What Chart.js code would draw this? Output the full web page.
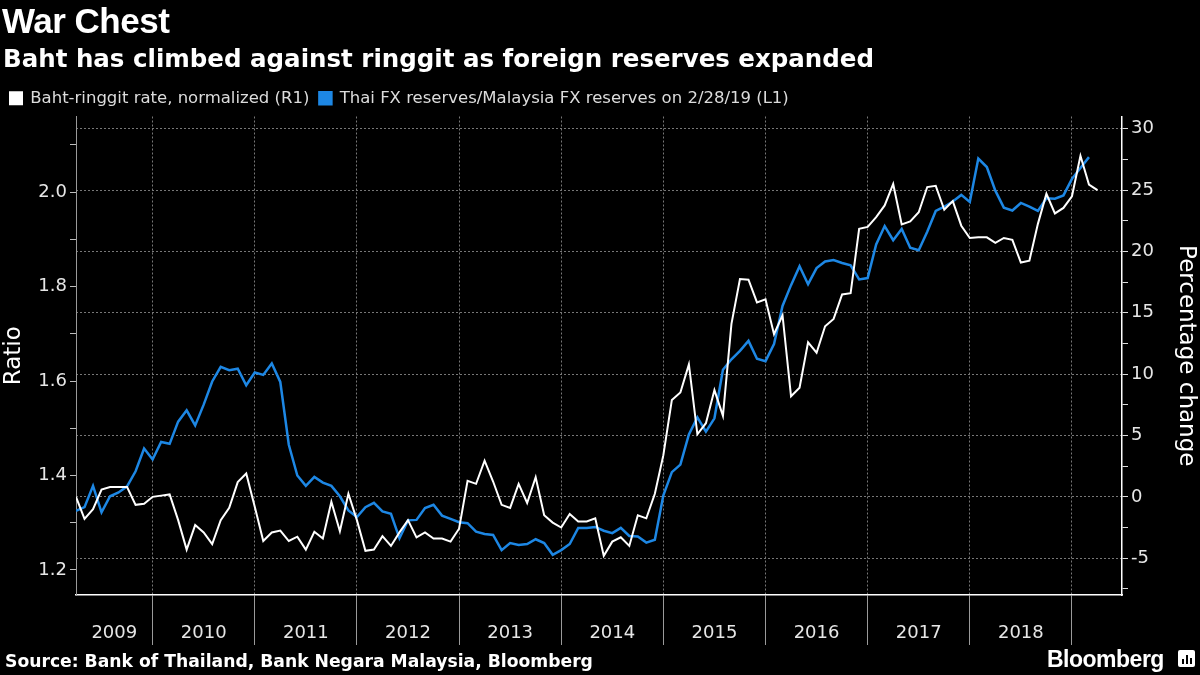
<!DOCTYPE html>
<html lang="en">
<head>
	<meta charset="UTF-8">
	<title>War Chest</title>
	<script src="https://cdn.jsdelivr.net/npm/chart.js@4.4.0/dist/chart.umd.min.js"></script>
	<style>
		body { margin: 0; background: #000; width: 1200px; height: 675px; overflow: hidden; position: relative; color: #fff; }
		#wrap { position: absolute; left: 0; top: 0; width: 1200px; height: 675px; }
		.title { position: absolute; left: 2px; top: 1px; font: bold 35px "Liberation Sans", sans-serif; letter-spacing: -0.5px; }
		.subtitle { position: absolute; left: 3px; top: 44px; font: bold 24.5px "DejaVu Sans", sans-serif; }
		.source { position: absolute; left: 5px; top: 651px; font: bold 17.2px "DejaVu Sans", sans-serif; }
		.brand { position: absolute; left: 1047px; top: 646px; font: bold 23px "Liberation Sans", sans-serif; letter-spacing: -0.5px; }
		.icon { position: absolute; left: 1178px; top: 650px; width: 17px; height: 17px; background: #fff; border-radius: 2px; }
		.icon i { position: absolute; bottom: 3px; width: 2px; background: #000; }
	</style>
</head>
<body>
	<div id="wrap"><canvas id="myChart"></canvas></div>
	<div class="title">War Chest</div>
	<div class="subtitle">Baht has climbed against ringgit as foreign reserves expanded</div>
	<div class="source">Source: Bank of Thailand, Bank Negara Malaysia, Bloomberg</div>
	<div class="brand">Bloomberg</div>
	<div class="icon"><i style="left:4px;height:5px"></i><i style="left:8px;height:9px"></i><i style="left:12px;height:6px"></i></div>
<script>
	// monthly data, month-end, starting March 2009
	const startYear = 2009;
	const startMonth = 3;

	// Baht-ringgit rate, normalized (% change, right axis)
	const bahtRinggit = [
		0.0, -1.8, -1.0, 0.6, 0.8, 0.8, 0.8, -0.65, -0.57, 0.0,
		0.1, 0.2, -1.9, -4.3, -2.3, -2.9, -3.85, -1.9, -0.9, 1.2,
		1.9, -0.8, -3.6, -2.9, -2.75, -3.6, -3.25, -4.3, -2.85, -3.4,
		-0.4, -2.8, 0.25, -1.9, -4.4, -4.3, -3.2, -4.0, -2.9, -1.9,
		-3.3, -2.9, -3.4, -3.4, -3.65, -2.6, 1.3, 1.06, 2.95, 1.25,
		-0.65, -0.9, 1.06, -0.5, 1.6, -1.5, -2.1, -2.5, -1.4, -2.0,
		-2.0, -1.75, -4.8, -3.65, -3.3, -4.0, -1.5, -1.75, 0.25, 3.4,
		7.9, 8.5, 10.8, 5.1, 6.0, 8.7, 6.6, 14.1, 17.75, 17.7,
		15.85, 16.1, 13.25, 14.8, 8.2, 8.9, 12.6, 11.75, 13.9, 14.5,
		16.5, 16.6, 21.85, 22.0, 22.8, 23.75, 25.5, 22.2, 22.45, 23.2,
		25.25, 25.35, 23.4, 24.1, 22.1, 21.1, 21.15, 21.15, 20.7, 21.1,
		20.95, 19.1, 19.25, 22.25, 24.7, 23.1, 23.55, 24.5, 27.8, 25.45,
		25.0
	];

	// Thai FX reserves / Malaysia FX reserves (ratio, left axis)
	const reserveRatio = [
		1.325, 1.333, 1.378, 1.322, 1.356, 1.364, 1.377, 1.409, 1.457, 1.434,
		1.471, 1.467, 1.514, 1.538, 1.506, 1.550, 1.599, 1.630, 1.623, 1.626,
		1.591, 1.618, 1.613, 1.637, 1.598, 1.465, 1.400, 1.378, 1.397, 1.385,
		1.378, 1.356, 1.326, 1.312, 1.333, 1.342, 1.324, 1.319, 1.267, 1.305,
		1.306, 1.331, 1.338, 1.315, 1.308, 1.301, 1.299, 1.281, 1.276, 1.274,
		1.242, 1.257, 1.253, 1.255, 1.265, 1.257, 1.232, 1.242, 1.255, 1.289,
		1.289, 1.291, 1.283, 1.278, 1.289, 1.272, 1.271, 1.258, 1.264, 1.358,
		1.407, 1.423, 1.487, 1.523, 1.493, 1.521, 1.624, 1.646, 1.664, 1.685,
		1.647, 1.642, 1.678, 1.759, 1.803, 1.843, 1.805, 1.839, 1.853, 1.856,
		1.850, 1.845, 1.815, 1.818, 1.889, 1.928, 1.898, 1.922, 1.882, 1.877,
		1.916, 1.960, 1.969, 1.980, 1.994, 1.979, 2.071, 2.053, 2.003, 1.967,
		1.961, 1.977, 1.969, 1.960, 1.987, 1.986, 1.993, 2.028, 2.051, 2.074
	];

	const years = ['2009', '2010', '2011', '2012', '2013', '2014', '2015', '2016', '2017', '2018'];
	const ratioLabels = [1.2, 1.4, 1.6, 1.8, 2.0];
	const pctLabels = [-5, 0, 5, 10, 15, 20, 25, 30];

	const xMin = 2009.25, xMax = 2019.49;

	// month-end as decimal year
	function monthX(i) {
		const m = startMonth + i;
		return startYear + m / 12;
	}
	const whitePts = bahtRinggit.map((v, i) => ({ x: monthX(i), y: v }));
	const bluePts = reserveRatio.map((v, i) => ({ x: monthX(i), y: v }));

	// x ticks: year boundaries (lines) + year centres (labels)
	const xTicks = [];
	years.forEach(y => {
		const y0 = parseInt(y);
		const a = Math.max(y0, xMin), b = Math.min(y0 + 1, xMax);
		xTicks.push({ value: (a + b) / 2, label: y, line: false });
		xTicks.push({ value: y0 + 1, label: '', line: true });
	});

	const font = '"DejaVu Sans", sans-serif';
	Chart.defaults.font.family = font;
	const gridCol = '#777777';

	const ctx = document.getElementById('myChart').getContext('2d');
	const myChart = new Chart(ctx, {
		type: 'line',
		data: {
			datasets: [
				{
					label: 'Baht-ringgit rate, normalized (R1)',
					data: whitePts,
					yAxisID: 'y1',
					borderColor: '#ffffff',
					backgroundColor: '#ffffff',
					borderWidth: 2,
					pointRadius: 0,
					tension: 0
				},
				{
					label: 'Thai FX reserves/Malaysia FX reserves on 2/28/19 (L1)',
					data: bluePts,
					yAxisID: 'y',
					borderColor: '#1d87e4',
					backgroundColor: '#1d87e4',
					borderWidth: 2.5,
					pointRadius: 0,
					tension: 0
				}
			]
		},
		options: {
			responsive: true,
			maintainAspectRatio: false,
			animation: false,
			layout: { padding: { top: 80, left: 0, right: 0, bottom: 0 } },
			plugins: {
				tooltip: { enabled: false },
				legend: {
					position: 'top',
					align: 'start',
					labels: {
						color: '#dcdcdc',
						font: { size: 16.5, family: font },
						boxWidth: 12,
						boxHeight: 12,
						padding: 10
					}
				}
			},
			scales: {
				x: {
					type: 'linear',
					min: xMin,
					max: xMax,
					afterBuildTicks: s => { s.ticks = xTicks.map(t => ({ value: t.value })); },
					afterFit: s => { s.height = 80; },
					ticks: {
						autoSkip: false,
						maxRotation: 0,
						padding: -22,
						color: '#e6e6e6',
						font: { size: 18 },
						callback: (v, i) => xTicks[i] ? xTicks[i].label : ''
					},
					grid: {
						color: c => (c.tick && xTicks[c.index] && xTicks[c.index].line) ? gridCol : 'transparent',
						tickColor: c => (c.tick && xTicks[c.index] && xTicks[c.index].line) ? '#9a9a9a' : 'transparent',
						tickBorderDash: [],
						tickLength: 50,
						lineWidth: 1
					},
					border: { color: '#ffffff', width: 1.5, dash: [2, 2] }
				},
				y: {
					position: 'left',
					min: 1.147,
					max: 2.16,
					afterFit: s => { s.width = 76; },
					ticks: {
						stepSize: 0.1,
						includeBounds: false,
						color: '#e6e6e6',
						font: { size: 18 },
						padding: 3,
						callback: v => ratioLabels.some(r => Math.abs(r - v) < 1e-6) ? v.toFixed(1) : ''
					},
					grid: { drawOnChartArea: false, tickLength: 6, tickColor: '#bdbdbd' },
					border: { color: '#9a9a9a', width: 1 },
					title: { display: true, text: 'Ratio', color: '#ffffff', font: { size: 23 }, padding: 0 }
				},
				y1: {
					position: 'right',
					min: -8,
					max: 31,
					afterFit: s => { s.width = 78; },
					ticks: {
						stepSize: 2.5,
						includeBounds: false,
						color: '#e6e6e6',
						font: { size: 18 },
						padding: 3,
						callback: v => pctLabels.includes(v) ? v : ''
					},
					grid: {
						color: c => (c.tick && pctLabels.includes(c.tick.value)) ? gridCol : 'transparent',
						tickColor: '#dddddd',
						tickBorderDash: [],
						tickLength: 6
					},
					border: { color: '#ffffff', width: 1.5, dash: [2, 2] },
					title: { display: true, text: 'Percentage change', color: '#ffffff', font: { size: 23 }, padding: 0 }
				}
			}
		}
	});
</script>
</body>
</html>
